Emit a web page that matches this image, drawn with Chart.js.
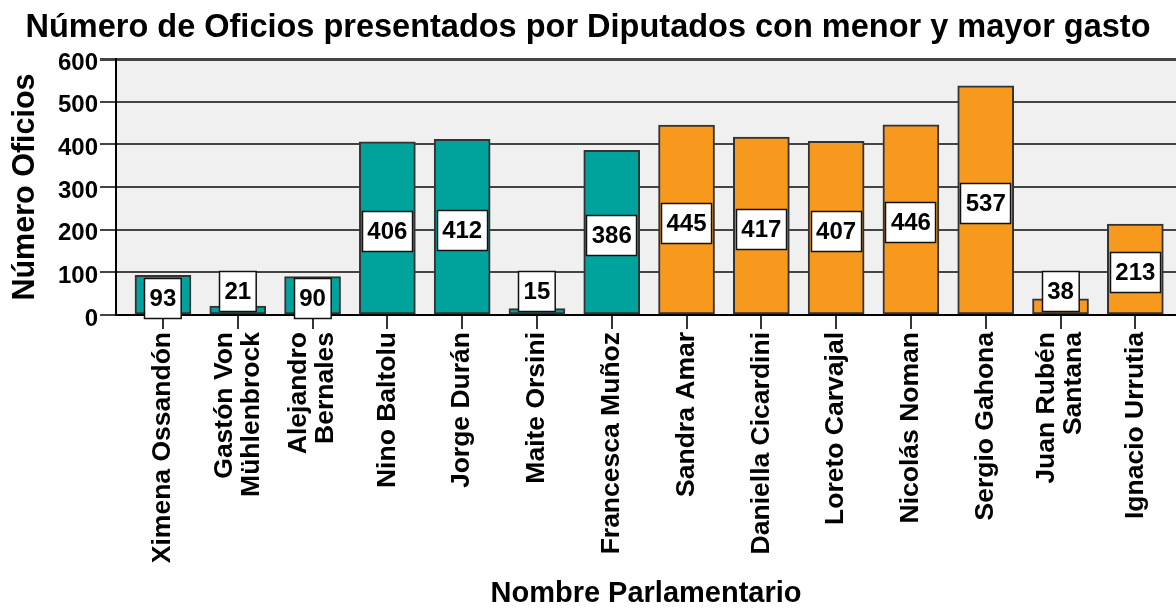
<!DOCTYPE html>
<html>
<head>
<meta charset="utf-8">
<script src="https://cdn.jsdelivr.net/npm/chart.js@4/dist/chart.umd.min.js"></script>
<style>
  html, body { margin: 0; padding: 0; background: #ffffff; }
  #wrap { width: 1176px; height: 608px; position: relative; }
</style>
</head>
<body>
<div id="wrap"><canvas id="c"></canvas></div>
<script>
// ---- data ----
const categories = [
  'Ximena Ossandón',
  ['Gastón Von', 'Mühlenbrock'],
  ['Alejandro', 'Bernales'],
  'Nino Baltolu',
  'Jorge Durán',
  'Maite Orsini',
  'Francesca Muñoz',
  'Sandra Amar',
  'Daniella Cicardini',
  'Loreto Carvajal',
  'Nicolás Noman',
  'Sergio Gahona',
  ['Juan Rubén', 'Santana'],
  'Ignacio Urrutia'
];
const oficios = [93, 21, 90, 406, 412, 15, 386, 445, 417, 407, 446, 537, 38, 213];
const grupo = ['menor', 'menor', 'menor', 'menor', 'menor', 'menor', 'menor',
               'mayor', 'mayor', 'mayor', 'mayor', 'mayor', 'mayor', 'mayor'];
const yTicks = [0, 100, 200, 300, 400, 500, 600];
const titleText = 'Número de Oficios presentados por Diputados con menor y mayor gasto';
const xTitle = 'Nombre Parlamentario';
const yTitle = 'Número Oficios';

// ---- styles ----
const groupColors = { menor: '#00A39C', mayor: '#F7991D' };
const FONT = "'Liberation Sans', Arial, sans-serif";
Chart.defaults.font.family = FONT;
Chart.defaults.color = '#000';

const plotBg = {
  id: 'plotBg',
  beforeDraw(chart) {
    const { ctx, chartArea: a } = chart;
    ctx.save();
    ctx.fillStyle = '#F0F0F0';
    ctx.fillRect(a.left, a.top, a.right - a.left, a.bottom - a.top);
    ctx.restore();
    // centre multi-line rotated category labels on their tick
    const xs = chart.scales.x;
    const items = xs.getLabelItems(chart.chartArea);
    if (!items._centred) {
      items.forEach(it => {
        const n = Array.isArray(it.label) ? it.label.length : 1;
        if (n > 1) {
          const lh = it.font.lineHeight;
          it.options.translation[0] -= (n - 1) * lh / 2;
        }
      });
      items._centred = true;
    }
  }
};

const valueBoxes = {
  id: 'valueBoxes',
  afterDatasetsDraw(chart) {
    const { ctx } = chart;
    const meta = chart.getDatasetMeta(0);
    ctx.save();
    ctx.font = 'bold 24px ' + FONT;
    meta.data.forEach((bar, i) => {
      const txt = String(oficios[i]);
      const h = bar.base - bar.y;
      let cy = (bar.y + bar.base) / 2 + 3.5;
      if (h < 30) cy = bar.base - 22.5;
      const tw = ctx.measureText(txt).width;
      const bw = tw + 11, bh = 41;
      const bx = Math.round(bar.x - bw / 2), by = Math.round(cy - bh / 2);
      ctx.fillStyle = '#ffffff';
      ctx.fillRect(bx, by, bw, bh);
      ctx.lineWidth = 1.5;
      ctx.strokeStyle = '#111';
      ctx.strokeRect(bx + 0.5, by + 0.5, bw - 1, bh - 1);
      ctx.fillStyle = '#000';
      ctx.textAlign = 'center';
      ctx.textBaseline = 'middle';
      ctx.fillText(txt, bar.x, cy + 1);
    });
    ctx.restore();
  }
};

new Chart(document.getElementById('c'), {
  type: 'bar',
  data: {
    labels: categories.map((_, i) => i),
    datasets: [{
      data: oficios,
      backgroundColor: grupo.map(g => groupColors[g]),
      borderColor: '#333333',
      borderWidth: 2,
      borderSkipped: false,
      barThickness: 56
    }]
  },
  options: {
    responsive: true,
    maintainAspectRatio: false,
    animation: false,
    layout: { padding: 0 },
    plugins: {
      legend: { display: false },
      tooltip: { enabled: false },
      title: {
        display: true,
        text: titleText,
        font: { size: 32.5, weight: 'bold' },
        color: '#000',
        padding: { top: 9, bottom: 11 }
      }
    },
    scales: {
      x: {
        type: 'linear',
        offset: false,
        min: -0.628,
        max: 13.544,
        afterBuildTicks(scale) { scale.ticks = categories.map((_, i) => ({ value: i })); },
        afterFit(scale) { scale.height = 293; },
        ticks: {
          autoSkip: false,
          minRotation: 90,
          maxRotation: 90,
          padding: 3,
          font: { size: 26.5, weight: 'bold', lineHeight: 1.02 },
          color: '#000',
          callback: v => categories[v]
        },
        grid: {
          offset: false,
          drawOnChartArea: false,
          drawTicks: true,
          tickLength: 14,
          color: '#333',
          lineWidth: 2
        },
        border: { display: true, color: '#000', width: 2 },
        title: {
          display: true,
          text: xTitle,
          font: { size: 29, weight: 'bold', lineHeight: 1 },
          color: '#000',
          padding: { top: 0, bottom: 0 }
        }
      },
      y: {
        min: 0,
        max: 600,
        afterBuildTicks(scale) { scale.ticks = yTicks.map(v => ({ value: v })); },
        afterFit(scale) { scale.width = 116; },
        ticks: {
          padding: 2,
          labelOffset: 4,
          font: { size: 24, weight: 'bold' },
          color: '#000'
        },
        grid: {
          color: '#444',
          lineWidth: ctx => (ctx.tick && ctx.tick.value === 600 ? 3 : 2),
          tickLength: 16
        },
        border: { display: true, color: '#000', width: 2 },
        title: {
          display: true,
          text: yTitle,
          font: { size: 30.5, weight: 'bold', lineHeight: 1.2 },
          color: '#000',
          padding: { top: 7, bottom: 0 }
        }
      }
    }
  },
  plugins: [plotBg, valueBoxes]
});
</script>
</body>
</html>
